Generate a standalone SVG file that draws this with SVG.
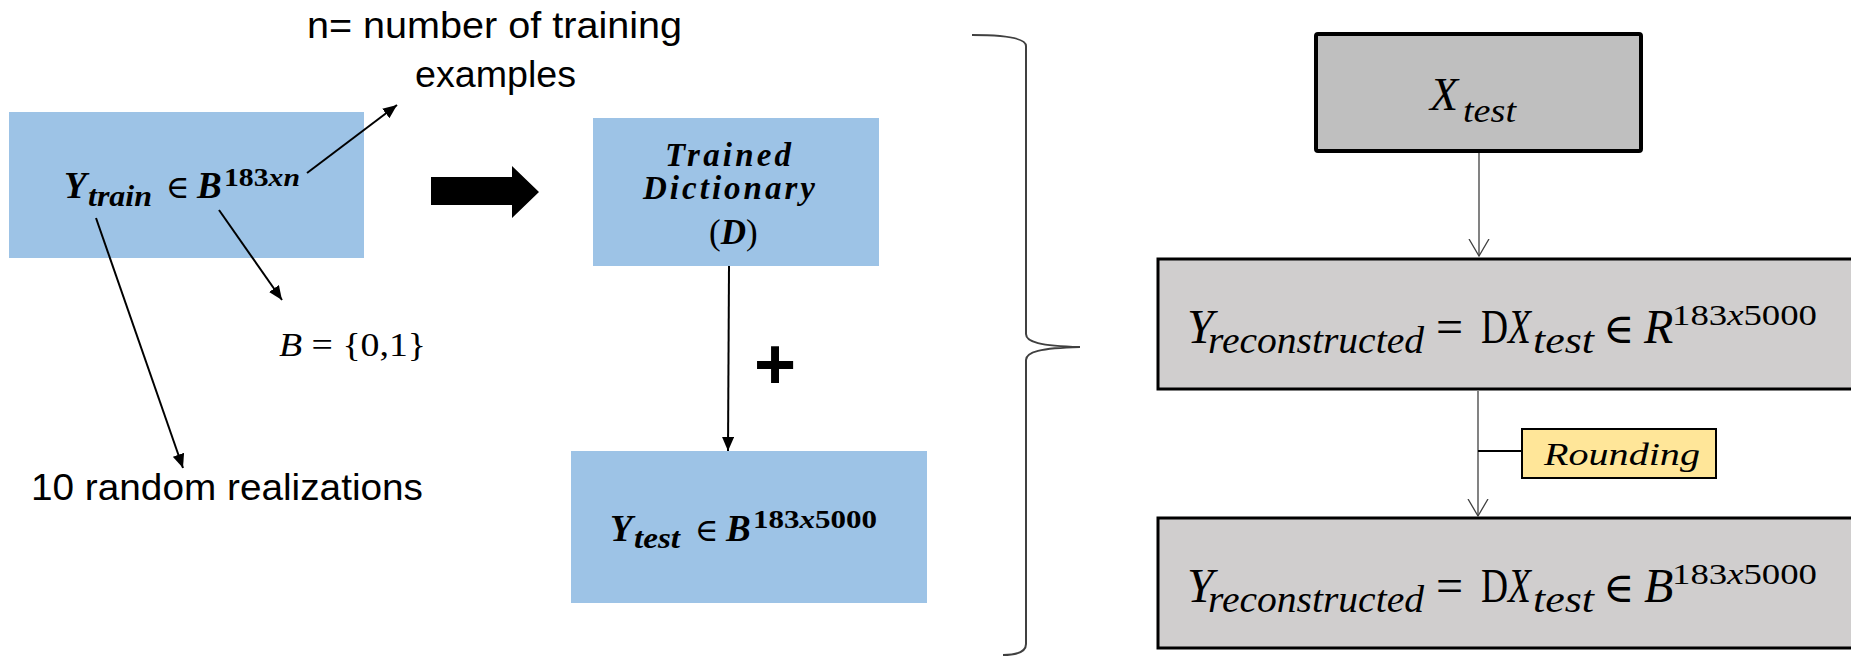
<svg xmlns="http://www.w3.org/2000/svg" width="1851" height="657" viewBox="0 0 1851 657">
  <defs>
    <style>
      .sans { font-family: "Liberation Sans", Arial, sans-serif; fill: #000; }
      .math { font-family: "Liberation Serif", "DejaVu Serif", serif; fill: #000; }
      .bi { font-weight: bold; font-style: italic; }
      .it { font-style: italic; }
      .up { font-style: normal; }
      .blue { fill: #9DC3E6; }
      .grey { fill: #D0CECE; stroke: #000; stroke-width: 3; }
      .link { stroke: #000; stroke-width: 2; fill: none; }
      .thin { stroke: #404040; stroke-width: 1.3; fill: none; }
    </style>
    <marker id="solid" viewBox="0 0 14 12" refX="14" refY="6" markerWidth="14" markerHeight="12" markerUnits="userSpaceOnUse" orient="auto">
      <path d="M0,0 L14,6 L0,12 Z" fill="#000"/>
    </marker>
    <marker id="open" viewBox="0 0 18 22" refX="17" refY="11" markerWidth="18" markerHeight="22" markerUnits="userSpaceOnUse" orient="auto">
      <path d="M0,1 L17,11 L0,21" fill="none" stroke="#404040" stroke-width="1.3"/>
    </marker>
  </defs>

  <rect width="1851" height="657" fill="#fff"/>

  <!-- training data -->
  <g id="ytrain">
    <rect class="blue" x="9" y="112" width="355" height="146"/>
    <text class="math bi" x="64" y="198" font-size="37">Y</text>
    <text class="math bi" x="88" y="206" font-size="29" textLength="64" lengthAdjust="spacingAndGlyphs">train</text>
    <text class="math" x="166" y="198" font-size="32">∈</text>
    <text class="math bi" x="197" y="198" font-size="37">B</text>
    <text class="math" x="224" y="186" font-size="26" font-weight="bold" textLength="76" lengthAdjust="spacingAndGlyphs">183<tspan class="it">xn</tspan></text>
  </g>

  <g id="note-n">
    <text class="sans" x="307" y="38" font-size="37" textLength="375" lengthAdjust="spacingAndGlyphs">n= number of training</text>
    <text class="sans" x="415" y="87" font-size="37" textLength="161" lengthAdjust="spacingAndGlyphs">examples</text>
  </g>

  <g id="note-b">
    <text class="math" x="279" y="356" font-size="33" textLength="147" lengthAdjust="spacingAndGlyphs"><tspan class="it">B</tspan> = {0,1}</text>
  </g>

  <g id="note-real">
    <text class="sans" x="31" y="500" font-size="36" textLength="392" lengthAdjust="spacingAndGlyphs">10 random realizations</text>
  </g>

  <!-- block arrow -->
  <g id="big-arrow">
    <polygon points="431,177 512,177 512,166 539,192 512,218 512,205 431,205" fill="#000"/>
  </g>

  <g id="dictionary">
    <rect class="blue" x="593" y="118" width="286" height="148"/>
    <text class="math bi" x="665" y="166" font-size="33" textLength="126" lengthAdjust="spacing">Trained</text>
    <text class="math bi" x="643" y="199" font-size="33" textLength="172" lengthAdjust="spacing">Dictionary</text>
    <text class="math" x="709" y="244" font-size="35">(<tspan class="bi">D</tspan>)</text>
  </g>

  <g id="plus">
    <text class="sans" x="775" y="389" font-size="72" font-weight="bold" text-anchor="middle">+</text>
  </g>

  <g id="ytest">
    <rect class="blue" x="571" y="451" width="356" height="152"/>
    <text class="math bi" x="610" y="541" font-size="37">Y</text>
    <text class="math bi" x="634" y="548" font-size="29" textLength="46" lengthAdjust="spacingAndGlyphs">test</text>
    <text class="math" x="695" y="541" font-size="32">∈</text>
    <text class="math bi" x="726" y="541" font-size="37">B</text>
    <text class="math" x="753" y="528" font-size="26" font-weight="bold" textLength="124" lengthAdjust="spacingAndGlyphs">183<tspan class="it">x</tspan>5000</text>
  </g>

  <!-- curly brace grouping the training stage -->
  <g id="brace">
    <path d="M972,35 C1005,35 1026,38 1026,46 L1026,334 C1026,342 1040,346 1080,347 C1040,348 1026,352 1026,360 L1026,644 C1026,652 1016,655 1003,655" fill="none" stroke="#404040" stroke-width="2"/>
  </g>

  <!-- reconstruction stage -->
  <g id="xtest">
    <rect x="1316" y="34" width="325" height="117" rx="2" fill="#BFBFBF" stroke="#000" stroke-width="4"/>
    <text class="math it" x="1430" y="110" font-size="46">X</text>
    <text class="math it" x="1463" y="122" font-size="34" textLength="53" lengthAdjust="spacingAndGlyphs">test</text>
  </g>

  <g id="yrec-real">
    <rect class="grey" x="1158" y="259" width="700" height="130"/>
    <text class="math it" x="1187" y="343" font-size="48">Y</text>
    <text class="math it" x="1208" y="353" font-size="38" textLength="216" lengthAdjust="spacingAndGlyphs">reconstructed</text>
    <text class="math" x="1436" y="343" font-size="48">=</text>
    <text class="math" x="1481" y="343" font-size="48" textLength="50" lengthAdjust="spacingAndGlyphs">D<tspan class="it">X</tspan></text>
    <text class="math it" x="1533" y="353" font-size="38" textLength="61" lengthAdjust="spacingAndGlyphs">test</text>
    <text class="math" x="1603" y="343" font-size="42">∈</text>
    <text class="math it" x="1644" y="343" font-size="48">R</text>
    <text class="math" x="1672" y="325" font-size="30" textLength="145" lengthAdjust="spacingAndGlyphs">183<tspan class="it">x</tspan>5000</text>
  </g>

  <g id="rounding">
    <rect x="1522" y="429" width="194" height="49" fill="#FFE699" stroke="#000" stroke-width="2"/>
    <text class="math it" x="1544" y="465" font-size="31" textLength="156" lengthAdjust="spacingAndGlyphs">Rounding</text>
  </g>

  <g id="yrec-binary">
    <rect class="grey" x="1158" y="518" width="700" height="130"/>
    <text class="math it" x="1187" y="602" font-size="48">Y</text>
    <text class="math it" x="1208" y="612" font-size="38" textLength="216" lengthAdjust="spacingAndGlyphs">reconstructed</text>
    <text class="math" x="1436" y="602" font-size="48">=</text>
    <text class="math" x="1481" y="602" font-size="48" textLength="50" lengthAdjust="spacingAndGlyphs">D<tspan class="it">X</tspan></text>
    <text class="math it" x="1533" y="612" font-size="38" textLength="61" lengthAdjust="spacingAndGlyphs">test</text>
    <text class="math" x="1603" y="602" font-size="42">∈</text>
    <text class="math it" x="1644" y="602" font-size="48">B</text>
    <text class="math" x="1672" y="584" font-size="30" textLength="145" lengthAdjust="spacingAndGlyphs">183<tspan class="it">x</tspan>5000</text>
  </g>

  <!-- connectors -->
  <g id="connectors">
    <line class="link" x1="307" y1="173" x2="397" y2="105" marker-end="url(#solid)"/>
    <line class="link" x1="219" y1="210" x2="282" y2="300" marker-end="url(#solid)"/>
    <line class="link" x1="96" y1="218" x2="183" y2="468" marker-end="url(#solid)"/>
    <line class="link" x1="729" y1="266" x2="728" y2="451" marker-end="url(#solid)"/>
    <line class="thin" x1="1479" y1="153" x2="1479" y2="256" marker-end="url(#open)"/>
    <line class="thin" x1="1478" y1="391" x2="1478" y2="516" marker-end="url(#open)"/>
    <line x1="1478" y1="451" x2="1522" y2="451" stroke="#000" stroke-width="2"/>
  </g>
</svg>
